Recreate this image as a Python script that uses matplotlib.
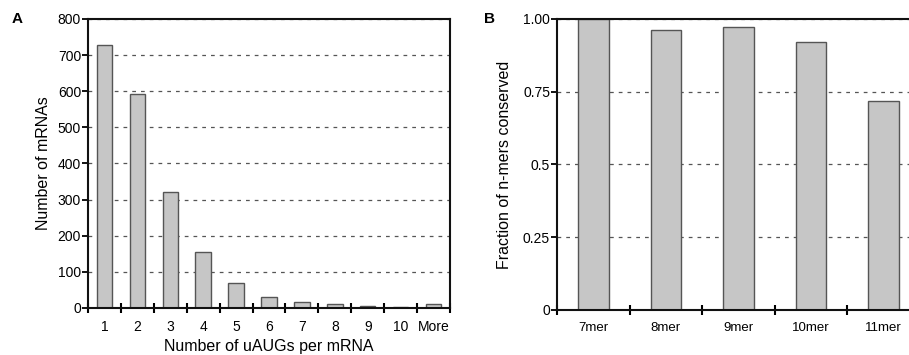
import matplotlib
matplotlib.use('Agg')
import matplotlib.pyplot as plt
import numpy as np

plt.rcParams['font.family'] = ['Liberation Sans', 'DejaVu Sans']

# panel A data
uaug_labels = ['1', '2', '3', '4', '5', '6', '7', '8', '9', '10', 'More']
uaug_counts = [728, 593, 320, 156, 70, 30, 17, 10, 6, 4, 10]

# panel B data
nmer_labels = ['7mer', '8mer', '9mer', '10mer', '11mer']
nmer_frac = [1.00, 0.962, 0.971, 0.920, 0.719]

bar_color = '#c6c6c6'
edge_color = '#555555'
grid_color = '#555555'


def style_axes(ax, n):
	for s in ax.spines.values():
		s.set_linewidth(1.5)
		s.set_color('#111111')
	ax.set_xlim(-0.5, n - 0.5)
	ax.set_xticks(np.arange(n))
	ax.set_xticks(np.arange(n + 1) - 0.5, minor=True)
	ax.tick_params(axis='x', which='major', length=0, pad=9)
	ax.tick_params(axis='x', which='minor', direction='inout', length=7, width=1.5)
	ax.tick_params(axis='y', direction='out', length=4, width=1.3, pad=1)
	ax.yaxis.grid(True, linestyle=(0, (3, 4)), color=grid_color, linewidth=0.9)
	ax.set_axisbelow(True)


fig = plt.figure(figsize=(9.09, 3.55), dpi=100)

axA = fig.add_axes([0.0968, 0.1324, 0.3982, 0.8141])
x = np.arange(len(uaug_labels))
axA.bar(x, uaug_counts, width=0.47, color=bar_color, edgecolor=edge_color, linewidth=1)
style_axes(axA, len(uaug_labels))
axA.set_ylim(0, 800)
axA.set_yticks(np.arange(0, 801, 100))
axA.set_xticklabels(uaug_labels, fontsize=10)
axA.tick_params(axis='y', labelsize=10)
axA.set_xlabel('Number of uAUGs per mRNA', fontsize=11.5, labelpad=3)
axA.set_ylabel('Number of mRNAs', fontsize=11.5, labelpad=5)
fig.text(0.013, 0.935, 'A', fontsize=11, fontweight='bold')

axB = fig.add_axes([0.6128, 0.1268, 0.3993, 0.8197])
x = np.arange(len(nmer_labels))
axB.bar(x, nmer_frac, width=0.42, color=bar_color, edgecolor=edge_color, linewidth=1)
style_axes(axB, len(nmer_labels))
axB.set_ylim(0, 1)
axB.set_yticks([0, 0.25, 0.5, 0.75, 1.0])
axB.set_yticklabels(['0', '0.25', '0.5', '0.75', '1.00'], fontsize=10)
axB.set_xticklabels(nmer_labels, fontsize=9.5)
axB.set_ylabel('Fraction of n-mers conserved', fontsize=11.5, labelpad=8)
fig.text(0.533, 0.935, 'B', fontsize=11, fontweight='bold')

fig.savefig('out.png', dpi=100)
